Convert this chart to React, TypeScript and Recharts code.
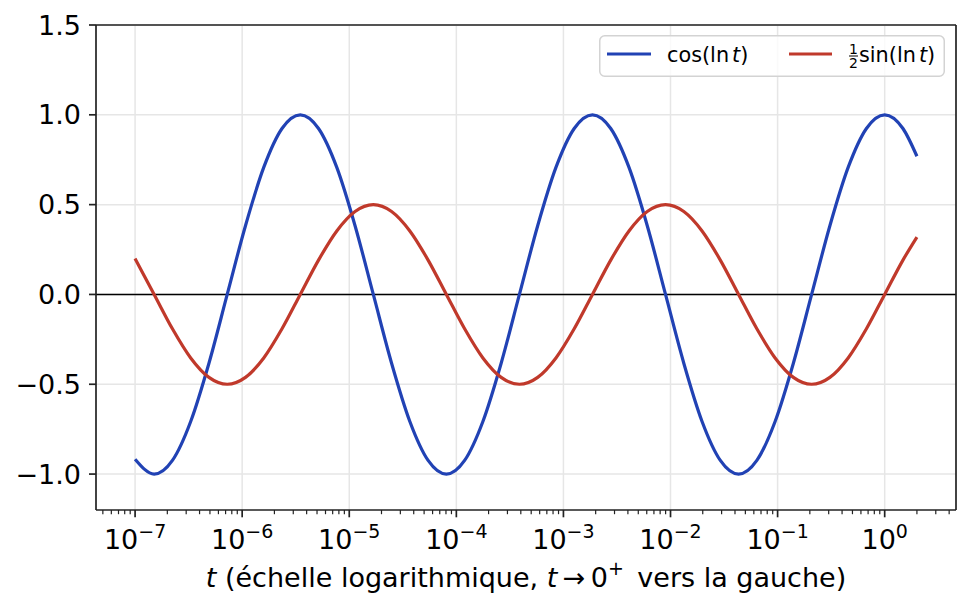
import React from 'react';
import { LineChart, Line, XAxis, YAxis, CartesianGrid, ReferenceLine, Legend } from 'recharts';

const FONT = '"DejaVu Sans", "Noto Sans", sans-serif';
const BLUE = '#2142b4';
const RED = '#c0392b';
const AXIS = '#222222';
const TICK_FS = 27;
const SUP_FS = 19;

// t values (log-spaced samples)
const tValues = [
  1e-7, 1.507e-7, 2.2318e-7, 3.3053e-7, 4.8951e-7, 7.2494e-7,
  1.0736e-6, 1.59e-6, 2.3547e-6, 3.4873e-6, 5.1645e-6, 7.6485e-6,
  1.1327e-5, 1.6775e-5, 2.4844e-5, 3.6793e-5, 5.4489e-5, 8.0698e-5,
  1.1951e-4, 1.7699e-4, 2.6213e-4, 3.882e-4, 5.749e-4, 8.5142e-4,
  1.2609e-3, 1.8674e-3, 2.7656e-3, 4.0958e-3, 6.0658e-3, 8.9833e-3,
  1.3304e-2, 1.9703e-2, 2.9179e-2, 4.3214e-2, 6.3999e-2, 9.478e-2,
  0.14037, 0.20788, 0.30786, 0.45594, 0.67523, 1, 1.481, 2,
];

// cos(ln t)
const cosValues = [
  -0.917, -1, -0.9239, -0.7071, -0.3827, 0,
  0.3827, 0.7071, 0.9239, 1, 0.9239, 0.7071,
  0.3827, 0, -0.3827, -0.7071, -0.9239, -1,
  -0.9239, -0.7071, -0.3827, 0, 0.3827, 0.7071,
  0.9239, 1, 0.9239, 0.7071, 0.3827, 0,
  -0.3827, -0.7071, -0.9239, -1, -0.9239, -0.7071,
  -0.3827, 0, 0.3827, 0.7071, 0.9239, 1, 0.9239, 0.7692,
];

// ½ sin(ln t)
const halfSinValues = [
  0.1995, 0, -0.1913, -0.3536, -0.4619, -0.5,
  -0.4619, -0.3536, -0.1913, 0, 0.1913, 0.3536,
  0.4619, 0.5, 0.4619, 0.3536, 0.1913, 0,
  -0.1913, -0.3536, -0.4619, -0.5, -0.4619, -0.3536,
  -0.1913, 0, 0.1913, 0.3536, 0.4619, 0.5,
  0.4619, 0.3536, 0.1913, 0, -0.1913, -0.3536,
  -0.4619, -0.5, -0.4619, -0.3536, -0.1913, 0, 0.1913, 0.3195,
];

const xMajorTicks = [1e-7, 1e-6, 1e-5, 1e-4, 1e-3, 1e-2, 1e-1, 1];
const xMajorExponents = [-7, -6, -5, -4, -3, -2, -1, 0];
const xMinorTicks = [
  5e-8, 6e-8, 7e-8, 8e-8, 9e-8,
  2e-7, 3e-7, 4e-7, 5e-7, 6e-7, 7e-7, 8e-7, 9e-7,
  2e-6, 3e-6, 4e-6, 5e-6, 6e-6, 7e-6, 8e-6, 9e-6,
  2e-5, 3e-5, 4e-5, 5e-5, 6e-5, 7e-5, 8e-5, 9e-5,
  2e-4, 3e-4, 4e-4, 5e-4, 6e-4, 7e-4, 8e-4, 9e-4,
  2e-3, 3e-3, 4e-3, 5e-3, 6e-3, 7e-3, 8e-3, 9e-3,
  2e-2, 3e-2, 4e-2, 5e-2, 6e-2, 7e-2, 8e-2, 9e-2,
  0.2, 0.3, 0.4, 0.5, 0.6, 0.7, 0.8, 0.9,
  2, 3, 4,
];
const xDomain = [4.315e-8, 4.634];
const yTicks = [-1, -0.5, 0, 0.5, 1, 1.5];
const yDomain = [-1.2, 1.5];

const data = tValues.map((t, i) => ({ t, c: cosValues[i], s: halfSinValues[i] }));
const xAllTicks = [...xMinorTicks, ...xMajorTicks].sort((a, b) => a - b);

const fmtY = (v: number) => (v < 0 ? '\u2212' : '') + Math.abs(v).toFixed(1);

function XTick(props: any) {
  const { x, y, payload } = props;
  const v = payload && payload.value;
  const idx = xMajorTicks.indexOf(v);
  if (idx < 0) {
    return <line x1={x} x2={x} y1={y} y2={y + 4.2} stroke={AXIS} strokeWidth={1.2} />;
  }
  const e = xMajorExponents[idx];
  const exp = e < 0 ? '\u2212' + Math.abs(e) : String(e);
  return (
    <g>
      <line x1={x} x2={x} y1={y} y2={y + 7.3} stroke={AXIS} strokeWidth={1.7} />
      <text x={x} y={y + 39} textAnchor="middle" fontSize={TICK_FS} fontFamily={FONT} fill="#000">
        <tspan>10</tspan>
        <tspan dy={-11} fontSize={SUP_FS}>{exp}</tspan>
      </text>
    </g>
  );
}

function XLabel(props: any) {
  const vb = props.viewBox || { x: 96, y: 510, width: 860, height: 101 };
  const cx = vb.x + vb.width / 2;
  const y = vb.y + 77;
  return (
    <text x={cx} y={y} textAnchor="middle" fontSize={TICK_FS} fontFamily={FONT} fill="#000">
      <tspan fontStyle="italic">t</tspan>
      <tspan>{' (échelle logarithmique, '}</tspan>
      <tspan fontStyle="italic">t</tspan>
      <tspan>{'\u2009\u2192\u20090'}</tspan>
      <tspan dy={-12} fontSize={SUP_FS}>+</tspan>
      <tspan dy={12}>{'\u2002vers la gauche)'}</tspan>
    </text>
  );
}

function LegendBox() {
  return (
    <svg width={346} height={42} style={{ display: 'block', overflow: 'visible' }}>
      <rect x={0.75} y={0.75} width={344.5} height={40.5} rx={5} ry={5}
        fill="rgba(255,255,255,0.8)" stroke="#d3d3d3" strokeWidth={1.5} />
      <line x1={8} x2={52} y1={19} y2={19} stroke={BLUE} strokeWidth={3.2} />
      <text x={68} y={27.3} fontSize={20.8} fontFamily={FONT} fill="#000">
        cos(ln<tspan dx={3} fontStyle="italic">t</tspan>)
      </text>
      <line x1={190} x2={233} y1={19} y2={19} stroke={RED} strokeWidth={3.2} />
      <text x={254.5} y={18.6} fontSize={14} fontFamily={FONT} fill="#000" textAnchor="middle">1</text>
      <line x1={250} x2={259} y1={21} y2={21} stroke="#000" strokeWidth={1} />
      <text x={254.5} y={33} fontSize={14} fontFamily={FONT} fill="#000" textAnchor="middle">2</text>
      <text x={260} y={27.3} fontSize={20.8} fontFamily={FONT} fill="#000">
        sin(ln<tspan dx={3} fontStyle="italic">t</tspan>)
      </text>
    </svg>
  );
}

export default function App() {
  return (
    <div style={{ position: 'absolute', left: 0, top: 0, width: 970, height: 611, background: '#fff' }}>
      <LineChart width={970} height={611} data={data} margin={{ top: 25, right: 14, bottom: 0, left: 0 }}>
        <CartesianGrid stroke="#e6e6e6" strokeWidth={1.5} verticalValues={xMajorTicks} horizontalValues={yTicks} />
        <XAxis
          dataKey="t"
          type="number"
          scale="log"
          domain={xDomain}
          allowDataOverflow
          ticks={xAllTicks}
          interval={0}
          height={101}
          tickSize={0}
          tickMargin={0}
          tickLine={false}
          axisLine={{ stroke: AXIS, strokeWidth: 1.7 }}
          tick={(p: any) => <XTick {...p} />}
          label={{ content: (p: any) => <XLabel {...p} /> }}
        />
        <YAxis
          type="number"
          domain={yDomain}
          ticks={yTicks}
          allowDataOverflow
          interval={0}
          width={96}
          tickSize={7}
          tickMargin={8}
          tickLine={{ stroke: AXIS, strokeWidth: 1.7 }}
          axisLine={{ stroke: AXIS, strokeWidth: 1.7 }}
          tick={{ fill: '#000', fontSize: TICK_FS, fontFamily: FONT }}
          tickFormatter={fmtY}
        />
        <ReferenceLine y={0} stroke="#000" strokeWidth={1.4} />
        <ReferenceLine y={yDomain[1]} stroke={AXIS} strokeWidth={1.7} />
        <ReferenceLine x={xDomain[1]} stroke={AXIS} strokeWidth={1.7} />
        <Line type="monotone" dataKey="c" stroke={BLUE} strokeWidth={3.2} dot={false} isAnimationActive={false} />
        <Line type="monotone" dataKey="s" stroke={RED} strokeWidth={3.2} dot={false} isAnimationActive={false} />
        <Legend
          layout="horizontal"
          verticalAlign="middle"
          align="center"
          wrapperStyle={{ top: 35, left: 599, width: 346, height: 42, margin: 0, padding: 0 }}
          content={() => <LegendBox />}
        />
      </LineChart>
    </div>
  );
}
